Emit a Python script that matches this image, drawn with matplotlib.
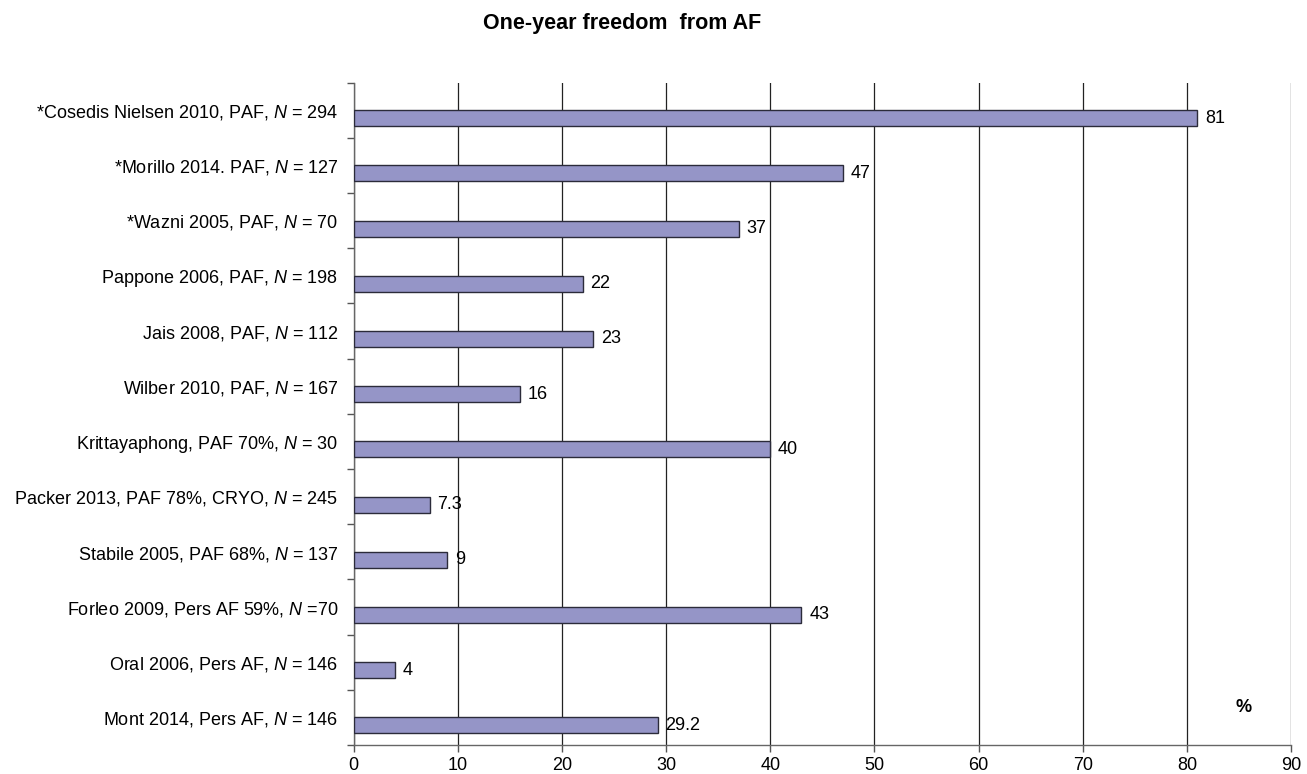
import matplotlib
matplotlib.use('Agg')
import matplotlib.pyplot as plt
from matplotlib.ticker import FixedLocator

plt.rcParams.update({
    'font.family': ['Liberation Sans', 'DejaVu Sans'],
    'font.size': 13,
    'mathtext.fontset': 'custom',
    'mathtext.rm': 'Liberation Sans',
    'mathtext.it': 'Liberation Sans:italic',
})

# ── data ──
studies = [
    '*Cosedis Nielsen 2010, PAF, $N$ = 294',
    '*Morillo 2014. PAF, $N$ = 127',
    '*Wazni 2005, PAF, $N$ = 70',
    'Pappone 2006, PAF, $N$ = 198',
    'Jais 2008, PAF, $N$ = 112',
    'Wilber 2010, PAF, $N$ = 167',
    'Krittayaphong, PAF 70%, $N$ = 30',
    'Packer 2013, PAF 78%, CRYO, $N$ = 245',
    'Stabile 2005, PAF 68%, $N$ = 137',
    'Forleo 2009, Pers AF 59%, $N$ =70',
    'Oral 2006, Pers AF, $N$ = 146',
    'Mont 2014, Pers AF, $N$ = 146',
]
freedom = [81, 47, 37, 22, 23, 16, 40, 7.3, 9, 43, 4, 29.2]
xticks = list(range(0, 91, 10))

fig = plt.figure(figsize=(13.07, 7.74), dpi=100)
ax = fig.add_axes([0.2705, 0.0375, 0.7173, 0.8559])

pos = list(range(len(studies)))
bh = 0.29
ax.barh(pos, freedom, height=bh, align='edge', color='#9595C7',
        edgecolor='#2b2b3a', linewidth=1, zorder=3)

for p, v in zip(pos, freedom):
    ax.text(v + 0.75, p + bh / 2, f'{v:g}', va='center', ha='left', fontsize=13, zorder=4)

ax.set_xlim(0, 90)
ax.set_ylim(len(studies) - 0.5, -0.5)
ax.set_xticks(xticks)
ax.grid(axis='x', color='#222222', lw=0.9, zorder=0)

ax.set_yticks(pos)
ax.set_yticklabels(studies)
ax.yaxis.set_minor_locator(FixedLocator([p + 0.5 for p in pos] + [-0.5]))
ax.tick_params(axis='y', which='major', length=0, pad=11)
ax.tick_params(axis='y', which='minor', length=5, width=1, color='#555555')
ax.tick_params(axis='x', length=5, width=1, color='#555555', pad=4, labelsize=13)

for s in ['top', 'right']:
    ax.spines[s].set_visible(False)
for s in ['left', 'bottom']:
    ax.spines[s].set_color('#666666')
    ax.spines[s].set_linewidth(1)

ax.text(0.949, 0.057, '%', transform=ax.transAxes, fontsize=13,
        fontweight='bold', ha='center', va='center')

fig.text(0.476, 0.969, 'One-year freedom  from AF', ha='center', va='center',
         fontsize=15.5, fontweight='bold')

fig.savefig('out.png', dpi=100)
